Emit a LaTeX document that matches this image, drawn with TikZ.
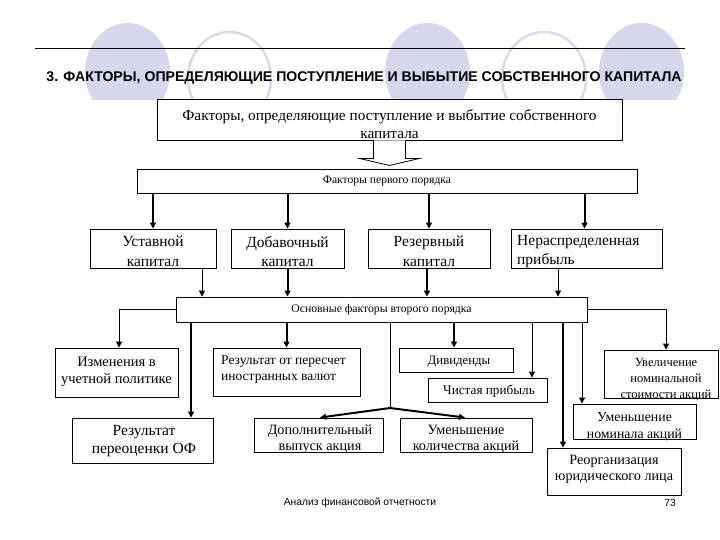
\documentclass[tikz,border=0pt]{standalone}
\usepackage{fontspec}
\setmainfont{Liberation Serif}
\newfontfamily\arialf{Liberation Sans}
\usetikzlibrary{arrows.meta,calc}
\definecolor{circfill}{HTML}{D6D6EC}
\definecolor{circline}{HTML}{D8D8E8}
\newcommand{\fs}[1]{\fontsize{#1}{#1}\selectfont}
\begin{document}
\begin{tikzpicture}[x=1pt,y=-1pt,
  box/.style={draw, line width=0.9pt, fill=white, rectangle, inner sep=0pt},
  lbl/.style={inner sep=0pt, align=center},
  thin/.style={line width=0.9pt, -{Triangle[length=6pt,width=6pt]}},
  thinline/.style={line width=0.9pt},
  thk/.style={line width=2pt, -{Triangle[length=6pt,width=6pt]}}]
\useasboundingbox (0,0) rectangle (720,540);
% background decoration
\begin{scope}
\clip (0,0) rectangle (720,100);
\fill[circfill] (127.5,72) ellipse (42.5 and 49);
\fill[circfill] (427.5,72) ellipse (42.5 and 49);
\fill[circfill] (641.5,72) ellipse (42.5 and 49);
\draw[circline, line width=2.5pt] (229.5,78) ellipse (41.5 and 46);
\draw[circline, line width=2.5pt] (544,78) ellipse (42 and 46);
\end{scope}
\draw[line width=0.8pt] (35,48) -- (685,48);
\node[lbl, font=\arialf\bfseries\fs{14.1}] (title) at (364,78) {3. ФАКТОРЫ, ОПРЕДЕЛЯЮЩИЕ ПОСТУПЛЕНИЕ И ВЫБЫТИЕ СОБСТВЕННОГО КАПИТАЛА};
% boxes
\node[box, minimum width=465pt, minimum height=41pt] (A) at (389.5,119.5) {};
\node[lbl, font=\fontsize{15.3}{18}\selectfont] (At) at (389.5,124) {Факторы, определяющие поступление и выбытие собственного\\капитала};
\draw[line width=0.8pt, fill=white] ($(A.south)+(-16,0)$) -- ($(A.south)+(-16,18)$) -- ($(A.south)+(-30,18)$) -- ($(A.south)+(0,25)$) -- ($(A.south)+(30,18)$) -- ($(A.south)+(16,18)$) -- ($(A.south)+(16,0)$);
\node[box, minimum width=500pt, minimum height=24pt] (B) at (387,181) {};
\node[lbl, font=\fs{11.6}] (Bt) at (387,181) {Факторы первого порядка};
\node[box, minimum width=126pt, minimum height=39pt] (R1) at (153,248.5) {};
\node[box, minimum width=113pt, minimum height=39pt] (R2) at (287.5,248.5) {};
\node[box, minimum width=122pt, minimum height=39pt] (R3) at (429,248.5) {};
\node[box, minimum width=151pt, minimum height=39pt] (R4) at (586.5,248.5) {};
\node[lbl, font=\fontsize{15.5}{19.5}\selectfont] (R1t) at (153,251.5) {Уставной\\капитал};
\node[lbl, font=\fontsize{15.5}{19.5}\selectfont] (R2t) at (287.5,251.5) {Добавочный\\капитал};
\node[lbl, font=\fontsize{15.5}{19.5}\selectfont] (R3t) at (429,251.5) {Резервный\\капитал};
\node[lbl, align=left, anchor=west, font=\fontsize{15.5}{19.5}\selectfont] (R4t) at (517,251.5) {Нераспределенная\\прибыль};
\node[box, minimum width=411pt, minimum height=25pt] (C) at (381.5,309.5) {};
\node[lbl, font=\fs{11.7}] (Ct) at (381.5,310) {Основные факторы второго порядка};
% second level
\node[box, minimum width=123pt, minimum height=49pt] (S1) at (116.5,372.5) {};
\node[lbl, font=\fontsize{14.5}{17}\selectfont] (S1t) at (116.5,371.5) {Изменения в\\учетной политике};
\node[box, minimum width=141pt, minimum height=45pt] (S2) at (142.5,440.5) {};
\node[lbl, font=\fontsize{15.5}{18}\selectfont] (S2t) at (144,441) {Результат\\переоценки ОФ};
\node[box, minimum width=147pt, minimum height=48pt] (S3) at (286.5,372) {};
\node[lbl, align=left, anchor=west, font=\fontsize{13.5}{16}\selectfont] (S3t) at (221,370) {Результат от пересчет\\иностранных валют};
\node[box, minimum width=129pt, minimum height=34pt] (S4) at (318.5,435) {};
\node[lbl, font=\fontsize{14.2}{16}\selectfont] (S4t) at (320,439) {Дополнительный\\выпуск акция};
\node[box, minimum width=132pt, minimum height=34pt] (S5) at (466,435) {};
\node[lbl, font=\fontsize{14.2}{16}\selectfont] (S5t) at (466,439) {Уменьшение\\количества акций};
\node[box, minimum width=114pt, minimum height=24pt] (S6) at (456,360) {};
\node[lbl, font=\fs{12.8}] (S6t) at (459,362) {Дивиденды};
\node[box, minimum width=119pt, minimum height=24pt] (S7) at (487.5,390) {};
\node[lbl, font=\fs{13.2}] (S7t) at (489,391) {Чистая прибыль};
\node[box, minimum width=114pt, minimum height=48pt] (S8) at (661,374) {};
\node[lbl, font=\fontsize{12.5}{16}\selectfont] (S8t) at (666,379.5) {Увеличение\\номинальной\\стоимости акций};
\node[box, minimum width=123pt, minimum height=35pt] (S9) at (634.5,421.5) {};
\node[lbl, font=\fontsize{13.8}{17}\selectfont] (S9t) at (634.5,426.5) {Уменьшение\\номинала акций};
\node[box, minimum width=134pt, minimum height=47pt] (S10) at (614,471.5) {};
\node[lbl, font=\fontsize{14.2}{16}\selectfont] (S10t) at (614,469) {Реорганизация\\юридического лица};
% footer
\node[lbl, font=\arialf\fs{10.3}] (foot) at (360,503) {Анализ финансовой отчетности};
\node[lbl, font=\arialf\fs{10.3}] (page) at (670,503) {73};
% connectors: first order
\draw[thk] (R1.north |- B.south) -- (R1.north);
\draw[thk] (R2.north |- B.south) -- (R2.north);
\draw[thk] (R3.north |- B.south) -- (R3.north);
\draw[thk] ([xshift=-2pt]R4.north |- B.south) -- ([xshift=-2pt]R4.north);
\draw[thin] ([xshift=49pt]R1.south) -- ([xshift=49pt]R1.south |- C.north);
\draw[thk] (R2.south) -- (R2.south |- C.north);
\draw[thk] ([xshift=-2pt]R3.south) -- ([xshift=-2pt]R3.south |- C.north);
\draw[thin] ([xshift=-28.5pt]R4.south) -- ([xshift=-28.5pt]R4.south |- C.north);
% second order
\draw[thin] (C.west) -| ([xshift=2.5pt]S1.north);
\draw[thk] ([xshift=48.5pt]S2.north |- C.south) -- ([xshift=48.5pt]S2.north);
\draw[thk] (S3.north |- C.south) -- (S3.north);
\coordinate (split) at (390,408);
\draw[thinline] (split |- C.south) -- (split);
\draw[thk] (split) -- ([xshift=1.5pt]S4.north);
\draw[thk] (split) -- ([xshift=-1pt]S5.north);
\draw[thk] ([xshift=-2pt]S6.north |- C.south) -- ([xshift=-2pt]S6.north);
\draw[thin] ([xshift=44.5pt]S7.north |- C.south) -- ([xshift=44.5pt]S7.north);
\draw[thk] ([xshift=-51pt]S10.north |- C.south) -- ([xshift=-51pt]S10.north);
\draw[thin] ([xshift=-52.5pt]S9.north |- C.south) -- ([xshift=-52.5pt]S9.north);
\draw[thin] (C.east) -| ([xshift=5pt]S8.north);
\end{tikzpicture}
\end{document}
